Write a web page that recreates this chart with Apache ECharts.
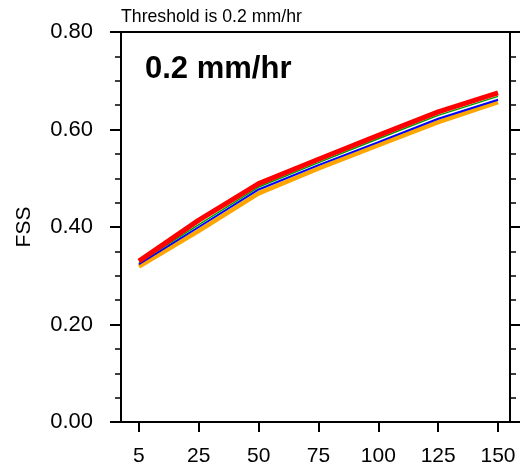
<!DOCTYPE html>
<html><head><meta charset="utf-8">
<script src="https://cdn.jsdelivr.net/npm/echarts@6/dist/echarts.min.js"></script>
<style>html,body{margin:0;padding:0;background:#fff}#c{width:520px;height:472px}</style>
</head><body><div id="c"></div>
<script>
var categories = ['5','25','50','75','100','125','150'];
var redVals    = [0.330, 0.414, 0.489, 0.539, 0.588, 0.636, 0.675];
var greenVals  = [0.327, 0.405, 0.482, 0.532, 0.581, 0.629, 0.668];
var blueVals   = [0.324, 0.400, 0.477, 0.527, 0.574, 0.622, 0.661];
var orangeVals = [0.319, 0.392, 0.469, 0.520, 0.568, 0.615, 0.656];
var titleText = 'Threshold is 0.2 mm/hr';
var innerLabel = '0.2 mm/hr';

function pts(v){ return v.map(function(y,i){ return [i,y]; }); }
var idx = categories.map(function(_,i){ return i; });
var font = 'Liberation Sans, Arial, Helvetica, sans-serif';
var chart = echarts.init(document.getElementById('c'), null, {renderer:'canvas'});
var axisLine = {show:true, onZero:false, lineStyle:{color:'#000', width:2}};
chart.setOption({
  animation:false,
  backgroundColor:'#fff',
  grid:{left:121, right:10, top:32, bottom:50, containLabel:false},
  title:[
    {text:titleText, left:121, top:8, padding:0, textStyle:{fontFamily:font, fontSize:17.7, fontWeight:'normal', color:'#000'}},
    {text:innerLabel, left:145, top:54, padding:0, textStyle:{fontFamily:font, fontSize:31, fontWeight:'bold', color:'#000'}}
  ],
  xAxis:[
    {type:'value', min:-0.3, max:6.2, position:'bottom', axisLine:axisLine,
     splitLine:{show:false},
     axisTick:{show:true, inside:false, length:10, customValues:idx, lineStyle:{color:'#000', width:2}},
     axisLabel:{show:true, customValues:idx, margin:24, fontFamily:font, fontSize:21, color:'#000',
       formatter:function(v){ return categories[Math.round(v)]; }}},
    {type:'value', min:-0.3, max:6.2, position:'top', axisLine:axisLine,
     splitLine:{show:false}, axisTick:{show:false}, axisLabel:{show:false}}
  ],
  yAxis:[
    {type:'value', min:0, max:0.8, interval:0.2, position:'left', axisLine:axisLine,
     splitLine:{show:false},
     name:'FSS', nameLocation:'middle', nameGap:86, nameRotate:90,
     nameTextStyle:{fontFamily:font, fontSize:21, color:'#000'},
     axisTick:{show:true, inside:false, length:11, lineStyle:{color:'#000', width:2}},
     minorTick:{show:true, splitNumber:4, length:6, lineStyle:{color:'#000', width:1.5}},
     axisLabel:{margin:28, fontFamily:font, fontSize:22, color:'#000',
       formatter:function(v){ return v.toFixed(2); }}},
    {type:'value', min:0, max:0.8, interval:0.2, position:'right', axisLine:axisLine,
     splitLine:{show:false},
     axisTick:{show:true, inside:false, length:11, lineStyle:{color:'#000', width:2}},
     minorTick:{show:true, splitNumber:4, length:6, lineStyle:{color:'#000', width:1.5}},
     axisLabel:{show:false}}
  ],
  series:[
    {type:'line', data:pts(orangeVals), symbol:'none', lineStyle:{color:'#ffa500', width:4.5}, z:2},
    {type:'line', data:pts(blueVals), symbol:'none', lineStyle:{color:'#0000ff', width:2}, z:3},
    {type:'line', data:pts(greenVals), symbol:'none', lineStyle:{color:'#00a000', width:1.5}, z:4},
    {type:'line', data:pts(redVals), symbol:'none', lineStyle:{color:'#ff0000', width:5}, z:5}
  ]
});
</script></body></html>
